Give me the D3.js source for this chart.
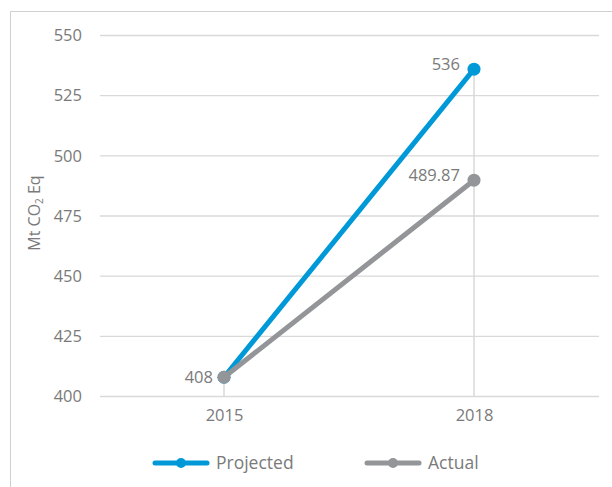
<!DOCTYPE html>
<html>
<head>
<meta charset="utf-8">
<script src="https://cdn.jsdelivr.net/npm/d3@7"></script>
<style>
  html, body { margin: 0; padding: 0; background: #fff; }
  svg { display: block; font-family: "Open Sans", "Noto Sans", sans-serif; }
</style>
</head>
<body>
<svg id="chart" width="612" height="487"></svg>
<script>
// Emissions: projected vs actual (Mt CO2 Eq)
const years = ["2015", "2018"];
const projected = [408, 536];
const actual = [408, 489.87];
const yTicks = [400, 425, 450, 475, 500, 525, 550];
const seriesNames = ["Projected", "Actual"];
const seriesColors = ["#0099d8", "#939598"];
const valueLabels = [["", "536"], ["408", "489.87"]];

const svg = d3.select("#chart");
const textColor = "#7a7a7a";
const gridColor = "#d9d9d9";
const font = "\"Open Sans\", sans-serif";

// frame
svg.append("path")
  .attr("d", "M10.5,487 L10.5,11.5 L612,11.5")
  .attr("fill", "none").attr("stroke", "#d0d0d0").attr("stroke-width", 1);

const x = d3.scalePoint().domain(years).range([224, 474]);
const y = d3.scaleLinear().domain([400, 550]).range([396.5, 35.5]);

// horizontal grid
svg.append("g").selectAll("line").data(yTicks).join("line")
  .attr("x1", 100).attr("x2", 599)
  .attr("y1", d => y(d)).attr("y2", d => y(d))
  .attr("stroke", gridColor).attr("stroke-width", 1.3);

// y tick labels
const yAxis = d3.axisLeft(y).tickValues(yTicks).tickSize(0).tickPadding(0);
const gy = svg.append("g").attr("transform", "translate(82,0)").call(yAxis);
gy.select(".domain").remove();
gy.selectAll("text").attr("fill", textColor).style("font-size", "16.5px")
  .style("font-family", font);

// x axis
const xAxis = d3.axisBottom(x).tickSize(0).tickPadding(0);
const gx = svg.append("g").attr("transform", "translate(0,409)").call(xAxis);
gx.select(".domain").remove();
gx.selectAll("text").attr("fill", textColor).style("font-size", "16.5px")
  .style("font-family", font);

// drop lines from the highest value per year
years.forEach((yr, i) => {
  const top = Math.max(projected[i], actual[i]);
  svg.append("line")
    .attr("x1", x(yr)).attr("x2", x(yr))
    .attr("y1", y(top)).attr("y2", y(400))
    .attr("stroke", gridColor).attr("stroke-width", 1.5);
});

// y axis title
svg.append("text")
  .attr("transform", "translate(40,213) rotate(-90)")
  .attr("text-anchor", "middle")
  .attr("fill", textColor)
  .style("font-size", "16px")
  .html('Mt CO<tspan font-size="10px" dy="3">2</tspan><tspan dy="-3"> Eq</tspan>');

// series
const allSeries = [projected, actual];
const line = d3.line().x((d, i) => x(years[i])).y(d => y(d));
allSeries.forEach((vals, s) => {
  svg.append("path").datum(vals)
    .attr("d", line)
    .attr("fill", "none")
    .attr("stroke", seriesColors[s])
    .attr("stroke-width", 5)
    .attr("stroke-linecap", "round");
});
allSeries.forEach((vals, s) => {
  svg.append("g").selectAll("circle").data(vals).join("circle")
    .attr("cx", (d, i) => x(years[i]))
    .attr("cy", d => y(d))
    .attr("r", 6.5)
    .attr("fill", seriesColors[s]);
});

// value labels
allSeries.forEach((vals, s) => {
  vals.forEach((v, i) => {
    const t = valueLabels[s][i];
    if (!t) return;
    svg.append("text")
      .attr("x", x(years[i]) - (i === 0 ? 11 : 14))
      .attr("y", y(v) + (i === 0 ? 6 : 1))
      .attr("text-anchor", "end")
      .attr("fill", textColor)
      .style("font-size", "16.5px")
      .text(t);
  });
});

// legend
const legendX = [153, 365];
seriesNames.forEach((name, s) => {
  const g = svg.append("g").attr("transform", `translate(${legendX[s]},463)`);
  g.append("line").attr("x1", 2).attr("x2", 54).attr("y1", 0).attr("y2", 0)
    .attr("stroke", seriesColors[s]).attr("stroke-width", 5).attr("stroke-linecap", "round");
  g.append("circle").attr("cx", 28).attr("cy", 0).attr("r", 5).attr("fill", seriesColors[s]);
  g.append("text").attr("x", 63).attr("y", 6).attr("fill", textColor)
    .style("font-size", "17.5px").text(name);
});
</script>
</body>
</html>
